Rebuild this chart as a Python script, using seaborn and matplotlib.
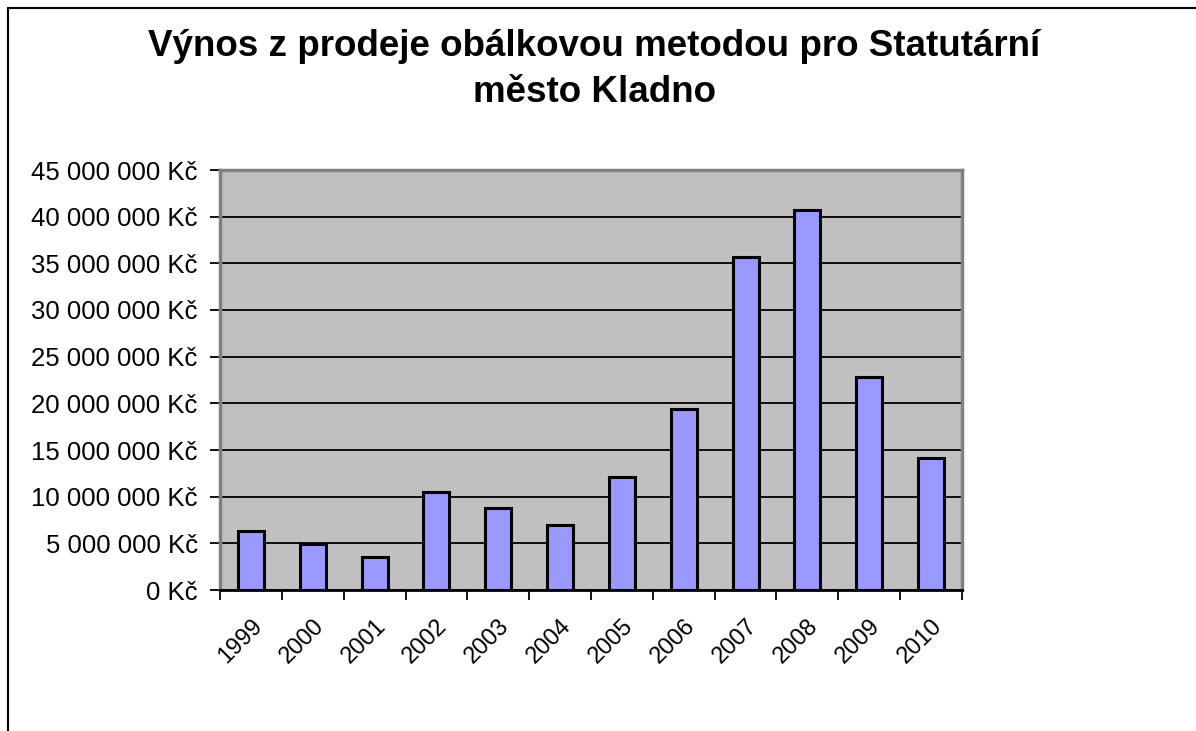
import matplotlib
matplotlib.use("Agg")
import matplotlib.pyplot as plt
from matplotlib.lines import Line2D
from matplotlib.ticker import FuncFormatter, FixedLocator
import seaborn as sns
import pandas as pd

# data
years = ['1999', '2000', '2001', '2002', '2003', '2004',
         '2005', '2006', '2007', '2008', '2009', '2010']
revenue = [6300000, 4900000, 3500000, 10500000, 8800000, 7000000,
           12100000, 19400000, 35700000, 40750000, 22800000, 14100000]
y_ticks = list(range(0, 45000001, 5000000))

title = 'Výnos z prodeje obálkovou metodou pro Statutární\nměsto Kladno'

df = pd.DataFrame({'rok': years, 'vynos': revenue})

sns.set_style('white')
plt.rcParams['font.family'] = ['Liberation Sans', 'DejaVu Sans']

fig = plt.figure(figsize=(11.96, 7.31), dpi=100)
ax = fig.add_axes([220 / 1196, 141 / 731, 742 / 1196, 420 / 731])

sns.barplot(data=df, x='rok', y='vynos', color='#9999FF', saturation=1,
            edgecolor='black', linewidth=2.2, width=0.42, ax=ax)

ax.set_facecolor('#C0C0C0')
ax.set_xlim(-0.5, len(years) - 0.5)
ax.set_ylim(0, 45000000)
ax.set_xlabel('')
ax.set_ylabel('')

# gridlines
ax.set_yticks(y_ticks)
ax.yaxis.grid(True, color='black', linewidth=1.3)
ax.set_axisbelow(True)
ax.yaxis.set_major_formatter(
    FuncFormatter(lambda v, p: f"{int(v):,}".replace(',', ' ') + ' Kč'))
ax.tick_params(axis='y', direction='out', length=7, width=1.3,
               colors='black', labelsize=18.5, pad=9, left=True)

# category ticks sit between bars, like in Excel
ax.xaxis.set_minor_locator(FixedLocator([i - 0.5 for i in range(len(years) + 1)]))
ax.tick_params(axis='x', which='minor', direction='out', length=7, width=1.3,
               bottom=True, color='black')
ax.tick_params(axis='x', which='major', length=0, labelsize=17, pad=18,
               colors='black')
for lbl in ax.get_xticklabels():
    lbl.set_rotation(45)
    lbl.set_ha('right')
    lbl.set_rotation_mode('anchor')

# plot frame
for side in ['top', 'right', 'left']:
    ax.spines[side].set_color('#808080')
    ax.spines[side].set_linewidth(2.5)
ax.spines['bottom'].set_color('black')
ax.spines['bottom'].set_linewidth(2)

fig.text(0.497, 1 - 29 / 731, title, ha='center', va='top',
         fontsize=26.5, fontweight='bold', linespacing=1.4, color='black')

# outer chart border (only top and left edge visible)
fig.add_artist(Line2D([8 / 1196, 1], [1 - 8 / 731, 1 - 8 / 731],
                      transform=fig.transFigure, color='black', linewidth=1.5))
fig.add_artist(Line2D([8 / 1196, 8 / 1196], [0, 1 - 8 / 731],
                      transform=fig.transFigure, color='black', linewidth=1.5))

fig.savefig('out.png', dpi=100)
